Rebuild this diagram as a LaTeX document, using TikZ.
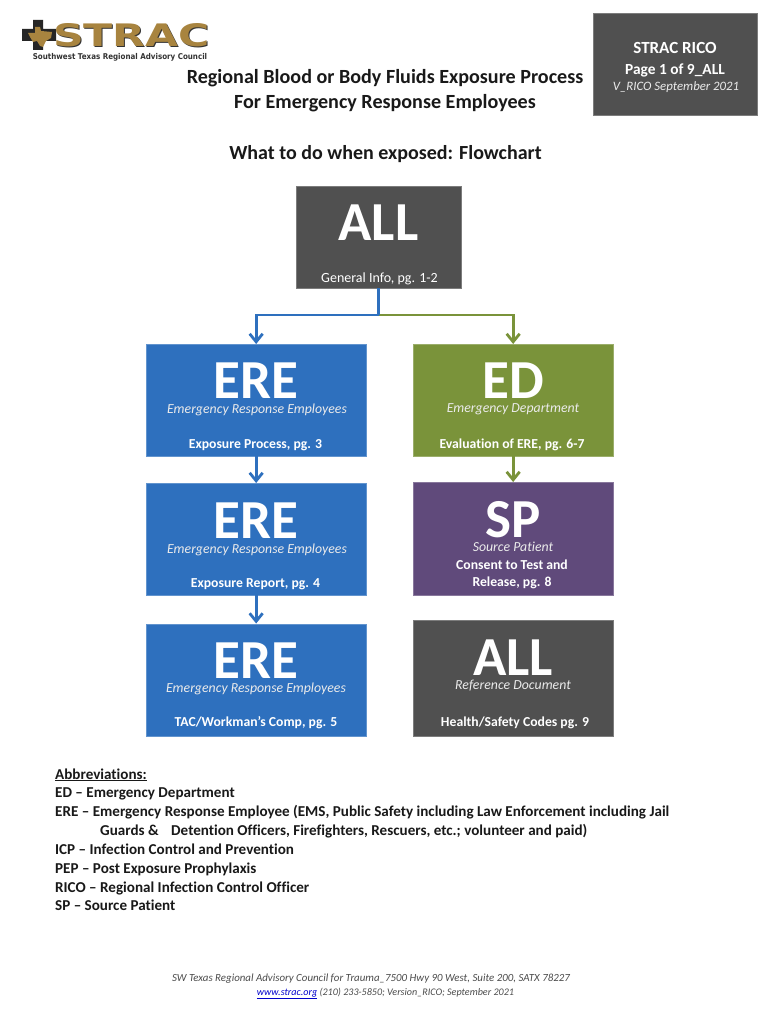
\documentclass[tikz,border=0pt]{standalone}
\usepackage{fontspec}
\setmainfont[Ligatures=NoCommon]{Carlito}
\newfontfamily\logofont{DejaVu Sans}
\usetikzlibrary{arrows.meta}
\definecolor{darkbox}{HTML}{505050}
\definecolor{bluebox}{HTML}{2E70BE}
\definecolor{greenbox}{HTML}{7A933A}
\definecolor{purplebox}{HTML}{604A7B}
\definecolor{tanlogo}{HTML}{A8843F}
\newcommand{\fs}[1]{\fontsize{#1}{#1}\selectfont}
\tikzset{
  x=1pt,y=-1pt,
  panelbox/.style={draw=#1!75!white,line width=0.8pt,fill=#1,inner sep=0pt,anchor=north west},
  bigtext/.style={text=white,font=\fs{55}\bfseries,anchor=base,inner sep=0pt},
  subtext/.style={text=white!92!black,font=\fs{13.8}\itshape,anchor=base,inner sep=0pt},
  captext/.style={text=white,font=\fs{13.7}\bfseries,anchor=base,inner sep=0pt},
  titletext/.style={font=\fs{20.1}\bfseries,anchor=base,inner sep=0pt,text=black!90},
  abbrtext/.style={font=\fs{15.1}\bfseries,anchor=base west,inner sep=0pt,text=black!90},
  foottext/.style={font=\fs{10.9}\itshape,anchor=base,inner sep=0pt,text=black!70},
  flowline/.style={line width=2.8pt,-{Straight Barb[length=8pt,width=13pt]}},
  stemline/.style={line width=2.8pt},
}
\begin{document}
\begin{tikzpicture}
\useasboundingbox[fill=white] (0,0) rectangle (770,1024);
% logo
\fill[black!85] (22,29) -- (33,29) -- (33,20) -- (43,20) -- (43,29) -- (56,29) -- (56,41) -- (43,41) -- (43,50) -- (33,50) -- (33,41) -- (22,41) -- cycle;
\fill[tanlogo] (28,33) -- (35,33) -- (35,27) -- (40,27) -- (41,31) -- (52,32) -- (51,38) -- (46,41) -- (43,47) -- (40,46) -- (37,41) -- (33,42) -- (30,37) -- cycle;
\node[anchor=base,inner sep=0pt,text=black!80,font=\logofont\fs{31}\bfseries,xscale=1.375] (logoback) at (132.5,47.5) {STRAC};
\node[anchor=base,inner sep=0pt,text=tanlogo,font=\logofont\fs{31}\bfseries,xscale=1.375] (logotext) at (131.5,46.5) {STRAC};
\node[anchor=base,inner sep=0pt,text=black!80,font=\logofont\fs{8}\bfseries,xscale=0.89] (logosub) at (120,60) {Southwest Texas Regional Advisory Council};
% header
\node[panelbox=darkbox,minimum width=164pt,minimum height=102pt] (hdr) at (593,13) {};
\node[captext,font=\fs{17}\bfseries] (h1) at (675,54) {STRAC RICO};
\node[captext,font=\fs{15.4}\bfseries] (h2) at (675,75) {Page 1 of 9\_ALL};
\node[subtext,font=\fs{12.8}\itshape] (h3) at (676,91) {V\_RICO September 2021};
% titles
\node[titletext] (t1) at (385,84) {Regional Blood or Body Fluids Exposure Process};
\node[titletext] (t2) at (385,109) {For Emergency Response Employees};
\node[titletext,font=\fs{20}\bfseries] (t3) at (385.5,160) {What to do when exposed: Flowchart};
% boxes
\node[panelbox=darkbox,minimum width=164.5pt,minimum height=101.5pt] (all) at (296,186) {};
\node[panelbox=bluebox,minimum width=219.5pt,minimum height=111.5pt] (ere1) at (146,344) {};
\node[panelbox=greenbox,minimum width=199.5pt,minimum height=111.5pt] (ed) at (413,344) {};
\node[panelbox=bluebox,minimum width=219.5pt,minimum height=111.5pt] (ere2) at (146,483) {};
\node[panelbox=purplebox,minimum width=199.5pt,minimum height=112.5pt] (sp) at (413,482) {};
\node[panelbox=bluebox,minimum width=219.5pt,minimum height=112pt] (ere3) at (146,623.5) {};
\node[panelbox=darkbox,minimum width=199.5pt,minimum height=115.5pt] (all2) at (413,620) {};
% box texts
\node[bigtext] (allt) at (378.5,240.5) {ALL};
\node[captext,font=\fs{14}] (allc) at (379.5,282) {General Info, pg. 1-2};
\node[bigtext] (e1t) at (256,398) {ERE};
\node[subtext] (e1s) at (257,413) {Emergency Response Employees};
\node[captext] (e1c) at (255.5,448) {Exposure Process, pg. 3};
\node[bigtext] (edt) at (513,398) {ED};
\node[subtext] (eds) at (513,412) {Emergency Department};
\node[captext] (edc) at (512,448) {Evaluation of ERE, pg. 6-7};
\node[bigtext] (e2t) at (256,538) {ERE};
\node[subtext] (e2s) at (257,553.5) {Emergency Response Employees};
\node[captext] (e2c) at (255.5,587) {Exposure Report, pg. 4};
\node[bigtext] (spt) at (513,537) {SP};
\node[subtext] (sps) at (513,551) {Source Patient};
\node[captext] (spc1) at (512,569) {Consent to Test and};
\node[captext] (spc2) at (512,586) {Release, pg. 8};
\node[bigtext] (e3t) at (256,678) {ERE};
\node[subtext] (e3s) at (256,692) {Emergency Response Employees};
\node[captext] (e3c) at (256,726) {TAC/Workman’s Comp, pg. 5};
\node[bigtext] (a2t) at (513,675.5) {ALL};
\node[subtext] (a2s) at (513,689) {Reference Document};
\node[captext] (a2c) at (515,726) {Health/Safety Codes pg. 9};
% connectors
\coordinate (junction) at (all.south |- 0,315);
\draw[flowline,draw=greenbox] (junction) -| (ed.north);
\draw[flowline,draw=bluebox] (junction) -| (ere1.north);
\draw[stemline,draw=bluebox] (all.south) -- (junction);
\draw[flowline,draw=bluebox] (ere1.south) -- (ere2.north);
\draw[flowline,draw=bluebox] (ere2.south) -- (ere3.north);
\draw[flowline,draw=greenbox] (ed.south) -- (sp.north);
% abbreviations
\node[abbrtext] (ab0) at (55,779) {\underline{Abbreviations:}};
\node[abbrtext] (ab1) at (55,797) {ED – Emergency Department};
\node[abbrtext] (ab2) at (55,816) {ERE – Emergency Response Employee (EMS, Public Safety including Law Enforcement including Jail};
\node[abbrtext] (ab3) at (100,835) {Guards \&\hspace{0.6em}\ Detention Officers, Firefighters, Rescuers, etc.; volunteer and paid)};
\node[abbrtext] (ab4) at (55,854) {ICP – Infection Control and Prevention};
\node[abbrtext] (ab5) at (55,873) {PEP – Post Exposure Prophylaxis};
\node[abbrtext] (ab6) at (55,892) {RICO – Regional Infection Control Officer};
\node[abbrtext] (ab7) at (55,910) {SP – Source Patient};
% footer
\node[foottext] (f1) at (371,981) {SW Texas Regional Advisory Council for Trauma\_7500 Hwy 90 West, Suite 200, SATX 78227};
\node[foottext,font=\fs{10.1}\itshape] (f2) at (385.5,995) {\textcolor{blue!80!black}{\underline{www.strac.org}} (210) 233-5850; Version\_RICO; September 2021};
\end{tikzpicture}
\end{document}
